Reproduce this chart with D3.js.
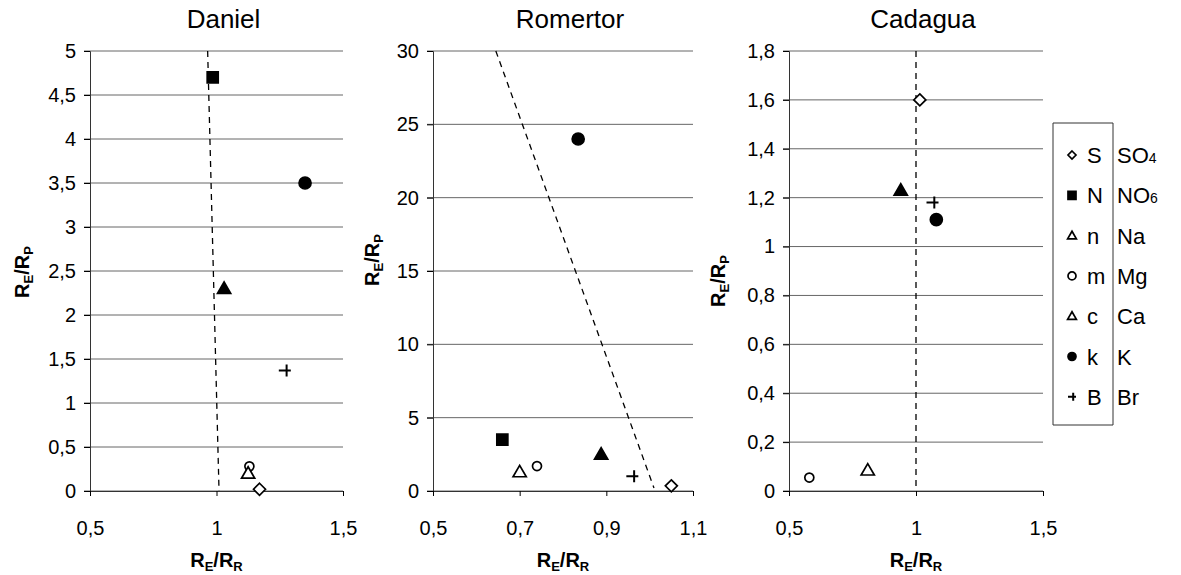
<!DOCTYPE html>
<html>
<head>
<meta charset="utf-8">
<script src="https://cdn.jsdelivr.net/npm/d3@7"></script>
<style>
  body { margin: 0; background: #fff; }
  text { font-family: "Liberation Sans", Arial, sans-serif; fill: #000; }
</style>
</head>
<body>
<div id="chart"></div>
<script>
// ions, in legend order
const codes = ["S", "N", "n", "m", "c", "k", "B"];
const ions = ["SO4", "NO6", "Na", "Mg", "Ca", "K", "Br"];

// Daniel
const danielX = [1.17, 0.985, 1.03, 1.13, 1.125, 1.35, 1.27];
const danielY = [0.02, 4.7, 2.3, 0.28, 0.2, 3.5, 1.37];
const danielLine = [[0.965, 5], [1.01, 0]];

// Romertor
const romertorX = [1.05, 0.66, 0.888, 0.74, 0.70, 0.835, 0.96];
const romertorY = [0.35, 3.5, 2.5, 1.7, 1.3, 24, 1.0];
const romertorLine = [[0.645, 30], [1.01, 0.2]];

// Cadagua (no NO6 point)
const cadaguaX = [1.015, null, 0.94, 0.58, 0.81, 1.08, 1.065];
const cadaguaY = [1.6, null, 1.23, 0.055, 0.085, 1.11, 1.18];
const cadaguaLine = [[1, 1.8], [1, 0]];

// ticks
const danielYTicks = [0, 0.5, 1, 1.5, 2, 2.5, 3, 3.5, 4, 4.5, 5];
const romertorYTicks = [0, 5, 10, 15, 20, 25, 30];
const cadaguaYTicks = [0, 0.2, 0.4, 0.6, 0.8, 1, 1.2, 1.4, 1.6, 1.8];
const danielXTicks = [0.5, 1, 1.5];
const romertorXTicks = [0.5, 0.7, 0.9, 1.1];
const cadaguaXTicks = [0.5, 1, 1.5];

const panels = [
  {title: "Daniel", xs: danielX, ys: danielY, line: danielLine,
   xt: danielXTicks, yt: danielYTicks, x0: 90, x1: 343, labX: 22, labY: 272},
  {title: "Romertor", xs: romertorX, ys: romertorY, line: romertorLine,
   xt: romertorXTicks, yt: romertorYTicks, x0: 433, x1: 693, labX: 372, labY: 260},
  {title: "Cadagua", xs: cadaguaX, ys: cadaguaY, line: cadaguaLine,
   xt: cadaguaXTicks, yt: cadaguaYTicks, x0: 789, x1: 1043, labX: 718, labY: 281}
];

// marker look per ion
const shapes = ["diamond", "square", "triangle", "circle", "triangle", "circle", "plus"];
const filled = [false, true, true, false, false, true, false];

const W = 1181, H = 575, plotTop = 51, plotBottom = 491;
const fmt = d3.formatLocale({decimal: ",", thousands: ".", grouping: [3], currency: ["", ""]}).format("~g");

const svg = d3.select("#chart").append("svg")
  .attr("width", W).attr("height", H);

function marker(g, shape, fill, s) {
  let p;
  if (shape === "diamond") p = `M0,${-s}L${s},0L0,${s}L${-s},0Z`;
  else if (shape === "square") p = `M${-s},${-s}H${s}V${s}H${-s}Z`;
  else if (shape === "triangle") p = `M0,${-s * 1.1}L${s * 1.1},${s * 0.8}L${-s * 1.1},${s * 0.8}Z`;
  else if (shape === "circle") p = `M${s},0A${s},${s} 0 1,1 ${-s},0A${s},${s} 0 1,1 ${s},0Z`;
  else p = `M${-s},0H${s}M${s * 0.3},${-s}V${s}`;
  g.append("path").attr("d", p)
    .attr("fill", fill ? "#000" : "#fff")
    .attr("stroke", "#000")
    .attr("stroke-width", shape === "plus" ? 2 : 1.7);
}

function subLabel(sel, a, sa, b, sb) {
  sel.append("tspan").text(a);
  sel.append("tspan").text(sa).attr("font-size", 13).attr("dy", 4);
  sel.append("tspan").text("/" + b).attr("dy", -4);
  sel.append("tspan").text(sb).attr("font-size", 13).attr("dy", 4);
}

panels.forEach(p => {
  const x = d3.scaleLinear().domain([p.xt[0], p.xt[p.xt.length - 1]]).range([p.x0, p.x1]);
  const y = d3.scaleLinear().domain([0, p.yt[p.yt.length - 1]]).range([plotBottom, plotTop]);
  const g = svg.append("g");

  // horizontal grid
  g.append("g").selectAll("line").data(p.yt).join("line")
    .attr("x1", p.x0 - 6).attr("x2", p.x1)
    .attr("y1", d => y(d)).attr("y2", d => y(d))
    .attr("stroke", "#666").attr("stroke-width", 1);

  // y axis
  g.append("g").attr("transform", `translate(${p.x0},0)`)
    .call(d3.axisLeft(y).tickValues(p.yt).tickFormat(fmt).tickSize(6).tickPadding(8))
    .call(a => a.select(".domain").attr("stroke", "#333"))
    .call(a => a.selectAll("text").attr("font-size", 20));

  // x axis
  g.append("g").attr("transform", `translate(0,${plotBottom})`)
    .call(d3.axisBottom(x).tickValues(p.xt).tickFormat(fmt).tickSize(5).tickPadding(25))
    .call(a => a.select(".domain").attr("stroke", "#333"))
    .call(a => a.selectAll("text").attr("font-size", 20));

  // dashed line
  g.append("path")
    .attr("d", d3.line().x(d => x(d[0])).y(d => y(d[1]))(p.line))
    .attr("fill", "none").attr("stroke", "#000")
    .attr("stroke-width", 1.3).attr("stroke-dasharray", "6,5");

  // points
  p.xs.forEach((v, i) => {
    if (v == null) return;
    const mg = g.append("g").attr("transform", `translate(${x(v)},${y(p.ys[i])})`);
    marker(mg, shapes[i], filled[i], shapes[i] === "square" ? 5.5 : shapes[i] === "circle" ? (filled[i] ? 6 : 4.5) : 6);
  });

  // titles and axis labels
  svg.append("text").attr("x", (p.x0 + p.x1) / 2 + 7).attr("y", 28)
    .attr("text-anchor", "middle").attr("font-size", 26).text(p.title);

  const xl = svg.append("text").attr("x", (p.x0 + p.x1) / 2).attr("y", 567)
    .attr("text-anchor", "middle").attr("font-size", 20).attr("font-weight", "bold");
  subLabel(xl, "R", "E", "R", "R");

  const yl = svg.append("text")
    .attr("transform", `translate(${p.labX + 7},${p.labY}) rotate(-90)`)
    .attr("text-anchor", "middle").attr("font-size", 20).attr("font-weight", "bold");
  subLabel(yl, "R", "E", "R", "P");
});

// legend
const leg = svg.append("g");
leg.append("path").attr("d", "M1053,123H1113V425H1053Z")
  .attr("fill", "none").attr("stroke", "#333").attr("stroke-width", 1);
const legFilled = [false, true, false, false, false, true, false];
codes.forEach((c, i) => {
  const cy = 155 + i * 40.3;
  const mg = leg.append("g").attr("transform", `translate(1072,${cy})`);
  marker(mg, shapes[i], legFilled[i], 4);
  leg.append("text").attr("x", 1087).attr("y", cy + 8).attr("font-size", 22).text(c);
  const t = leg.append("text").attr("x", 1117).attr("y", cy + 8).attr("font-size", 22);
  const m = ions[i].match(/^(\D+)(\d?)$/);
  t.append("tspan").text(m[1]);
  if (m[2]) t.append("tspan").text(m[2]).attr("font-size", 14);
});
</script>
</body>
</html>
